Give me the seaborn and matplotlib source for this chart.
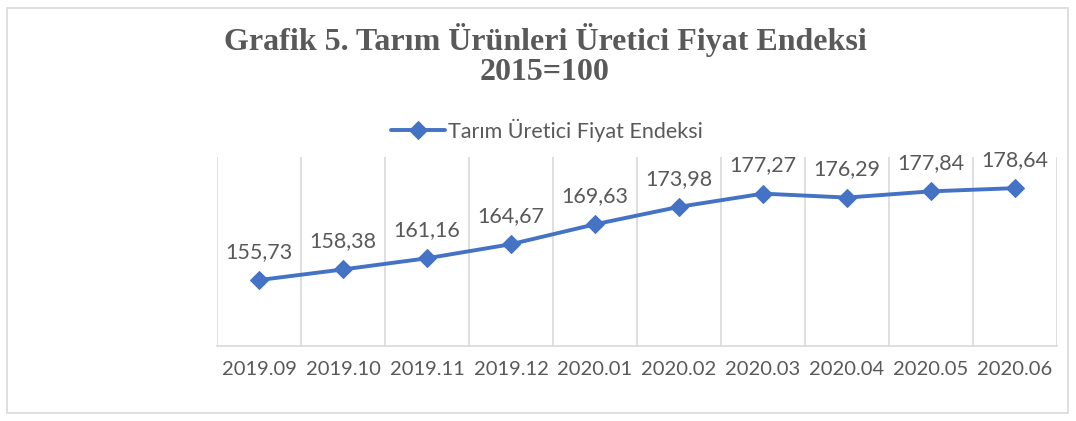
import numpy as np
import pandas as pd
import matplotlib.pyplot as plt
import seaborn as sns
from matplotlib.patches import Rectangle

months = ["2019.09", "2019.10", "2019.11", "2019.12", "2020.01",
          "2020.02", "2020.03", "2020.04", "2020.05", "2020.06"]
index_values = [155.73, 158.38, 161.16, 164.67, 169.63,
                173.98, 177.27, 176.29, 177.84, 178.64]
series_name = "Tarım Üretici Fiyat Endeksi"

df = pd.DataFrame({"month": months, "value": index_values})

sns.set_style("white")
plt.rcParams["font.family"] = ["Lato", "DejaVu Sans"]

grey_text = "#595959"
grid_col = "#D9D9D9"
blue = "#4472C4"

fig = plt.figure(figsize=(10.76, 4.21), dpi=100)
fig.patches.append(Rectangle((7 / 1076, 8 / 421), 1061 / 1076, 405 / 421,
                             transform=fig.transFigure, fill=False,
                             edgecolor=grid_col, linewidth=1.2))
ax = fig.add_axes([217 / 1076, 75 / 421, 840 / 1076, 189 / 421])

x = np.arange(len(months))
sns.lineplot(x=x, y=df["value"], ax=ax, color=blue, linewidth=2.8,
             marker="D", markersize=9, markeredgecolor=blue,
             label=series_name)

ax.set_xlim(-0.5, len(months) - 0.5)
ax.set_ylim(139.3, 186.4)
ax.set_yticks([])
ax.set_xticks(x)
ax.set_xticklabels(months, fontsize=14.5, color=grey_text)
ax.set_xticks(np.arange(-0.5, len(months)), minor=True)
ax.tick_params(axis="x", which="major", length=0, pad=11)
ax.tick_params(axis="x", which="minor", length=9, color=grid_col, width=1.2)
ax.grid(True, axis="x", which="minor", color=grid_col, linewidth=1.2)
ax.set_xlabel("")
ax.set_ylabel("")
for s in ["top", "left", "right"]:
    ax.spines[s].set_visible(False)
ax.spines["bottom"].set_color(grid_col)
ax.spines["bottom"].set_linewidth(1.2)

for xi, v in zip(x, index_values):
    ax.annotate(f"{v:.2f}".replace(".", ","), (xi, v), xytext=(0, 13),
                textcoords="offset points", ha="center", va="bottom",
                fontsize=15.5, color=grey_text)

leg = ax.legend(loc="center", bbox_to_anchor=(547 / 1076, 1 - 130 / 421),
                bbox_transform=fig.transFigure, frameon=False,
                fontsize=15.5, handlelength=2.5, handletextpad=0.15,
                borderaxespad=0, borderpad=0)
for t in leg.get_texts():
    t.set_color(grey_text)

fig.text(545 / 1076, 1 - 40 / 421, "Grafik 5. Tarım Ürünleri Üretici Fiyat Endeksi",
         ha="center", va="center", fontsize=23, fontweight="bold",
         color=grey_text, family=["Liberation Serif", "DejaVu Serif"])
fig.text(545 / 1076, 1 - 72 / 421, "2015=100",
         ha="center", va="center", fontsize=23, fontweight="bold",
         color=grey_text, family=["Liberation Serif", "DejaVu Serif"])

fig.savefig("out.png", dpi=100)
